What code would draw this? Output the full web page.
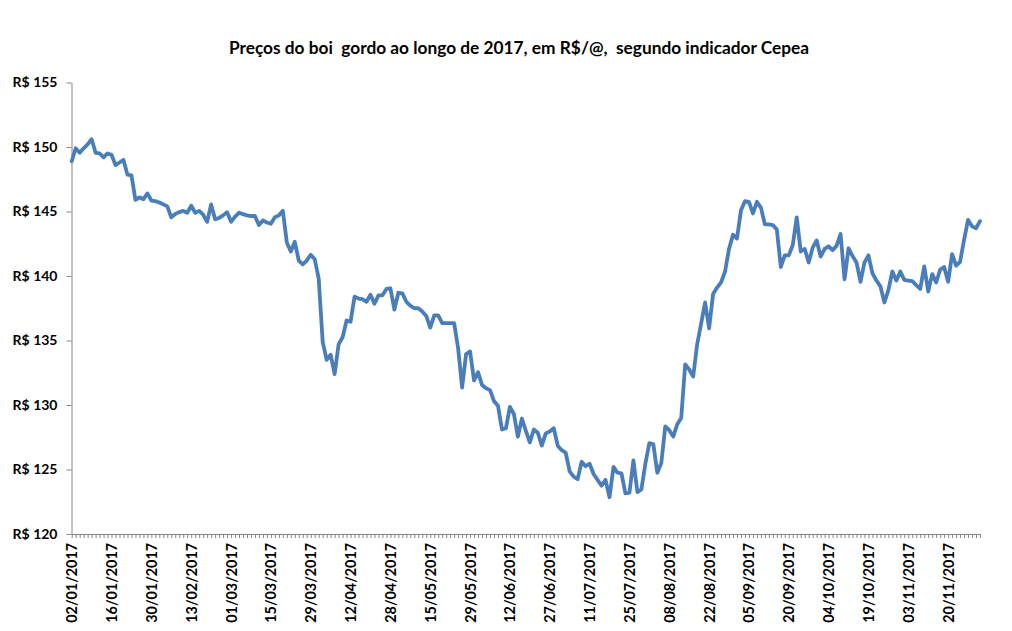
<!DOCTYPE html>
<html>
<head>
<meta charset="utf-8">
<script src="https://cdn.jsdelivr.net/npm/d3@7"></script>
<style>
  body { margin: 0; background: #fff; }
  text { font-family: Lato, "Open Sans", sans-serif; }
</style>
</head>
<body>
<div id="chart"></div>
<script>
// Boi gordo, indicador Cepea, one value per trading day
const prices = [
  148.9, 149.9, 149.55, 149.9, 150.2, 150.6, 149.55, 149.5, 149.2, 149.5,
  149.4, 148.6, 148.8, 149.0, 147.85, 147.8, 145.9, 146.1, 145.95, 146.4,
  145.85, 145.8, 145.7, 145.55, 145.4, 144.55, 144.8, 144.95, 145.05, 144.9,
  145.45, 144.9, 145.05, 144.75, 144.2, 145.55, 144.4, 144.5, 144.7, 144.95,
  144.2, 144.6, 144.9, 144.8, 144.7, 144.65, 144.65, 143.95, 144.3, 144.15,
  144.05, 144.55, 144.7, 145.05, 142.6, 141.9, 142.65, 141.2, 140.9, 141.2,
  141.65, 141.3, 139.8, 134.9, 133.5, 133.9, 132.4, 134.7, 135.25, 136.55,
  136.45, 138.4, 138.25, 138.2, 138.0, 138.55, 137.85, 138.5, 138.5, 139.0,
  139.05, 137.4, 138.7, 138.65, 138.0, 137.7, 137.5, 137.5, 137.25, 136.9,
  136.0, 136.95, 136.95, 136.35, 136.35, 136.35, 136.35, 134.4, 131.35, 133.95,
  134.15, 131.9, 132.55, 131.55, 131.3, 131.15, 130.3, 129.95, 128.1, 128.2,
  129.85, 129.3, 127.55, 128.95, 128.0, 127.1, 128.1, 127.85, 126.85, 127.8,
  127.95, 128.2, 126.85, 126.5, 126.3, 124.85, 124.45, 124.25, 125.6, 125.25,
  125.45, 124.65, 124.2, 123.75, 124.2, 122.85, 125.2, 124.75, 124.7, 123.15,
  123.2, 125.7, 123.25, 123.45, 125.45, 127.05, 126.95, 124.75, 125.5, 128.35,
  128.05, 127.55, 128.5, 129.0, 133.15, 132.75, 132.2, 134.7, 136.3, 137.95,
  135.95, 138.6, 139.1, 139.5, 140.35, 142.1, 143.2, 142.9, 145.1, 145.8,
  145.75, 144.85, 145.75, 145.3, 144.0, 144.0, 143.95, 143.6, 140.7, 141.6,
  141.6, 142.4, 144.55, 141.9, 142.1, 141.05, 142.2, 142.75, 141.5, 142.1,
  142.3, 142.0, 142.35, 143.25, 139.75, 142.15, 141.55, 141.05, 139.55, 141.05,
  141.6, 140.2, 139.65, 139.2, 137.95, 138.9, 140.35, 139.65, 140.35, 139.7,
  139.65, 139.6, 139.3, 139.0, 140.75, 138.8, 140.15, 139.5, 140.5, 140.7,
  139.55, 141.7, 140.8, 141.1, 142.8, 144.35, 143.85, 143.7, 144.25
];

// labels shown every 10 trading days
const dateLabels = [
  "02/01/2017", "16/01/2017", "30/01/2017", "13/02/2017", "01/03/2017",
  "15/03/2017", "29/03/2017", "12/04/2017", "28/04/2017", "15/05/2017",
  "29/05/2017", "12/06/2017", "27/06/2017", "11/07/2017", "25/07/2017",
  "08/08/2017", "22/08/2017", "05/09/2017", "20/09/2017", "04/10/2017",
  "19/10/2017", "03/11/2017", "20/11/2017"
];
const labelStep = 10;

const yTicks = [120, 125, 130, 135, 140, 145, 150, 155];

const title = "Preços do boi  gordo ao longo de 2017, em R$/@,  segundo indicador Cepea";

const width = 1012;
const height = 631;
const margin = { top: 82.5, right: 32, bottom: 97, left: 71.5 };

const svg = d3
  .select("#chart")
  .append("svg")
  .attr("width", width)
  .attr("height", height);

const x = d3
  .scaleLinear()
  .domain([0, prices.length - 1])
  .range([margin.left + 0.2, width - margin.right]);

const y = d3
  .scaleLinear()
  .domain([120, 155])
  .range([height - margin.bottom, margin.top]);

// title
svg
  .append("text")
  .attr("x", 519)
  .attr("y", 54)
  .attr("text-anchor", "middle")
  .attr("font-size", "17.3px")
  .attr("font-weight", "bold")
  .style("white-space", "pre")
  .text(title);

// y axis
const yAxis = svg
  .append("g")
  .attr("transform", `translate(${margin.left},0)`)
  .call(
    d3
      .axisLeft(y)
      .tickValues(yTicks)
      .tickSize(5)
      .tickSizeOuter(0)
      .tickPadding(9)
      .tickFormat((d) => "R$ " + d)
  );

yAxis.selectAll("path, line").attr("stroke", "#868686");
yAxis
  .selectAll("text")
  .attr("font-size", "14px")
  .attr("font-weight", "bold")
  .attr("fill", "#000")
  .attr("font-family", "Lato, sans-serif");

// x axis: a small tick on every trading day, label every 10th
const xAxis = svg
  .append("g")
  .attr("transform", `translate(0,${height - margin.bottom})`)
  .call(
    d3
      .axisBottom(x)
      .tickValues(d3.range(prices.length))
      .tickSize(4)
      .tickSizeOuter(0)
      .tickFormat((i) => (i % labelStep === 0 ? dateLabels[i / labelStep] || "" : ""))
  );

xAxis.selectAll("path, line").attr("stroke", "#868686");
xAxis
  .selectAll("text")
  .attr("font-size", "14.3px")
  .attr("font-weight", "bold")
  .attr("fill", "#000")
  .attr("font-family", "Lato, sans-serif")
  .attr("text-anchor", "end")
  .attr("transform", "rotate(-90)")
  .attr("x", -9)
  .attr("y", 0)
  .attr("dy", "0.35em");

// price line
const line = d3
  .line()
  .x((d, i) => x(i))
  .y((d) => y(d));

svg
  .append("path")
  .datum(prices)
  .attr("fill", "none")
  .attr("stroke", "#4A7EBB")
  .attr("stroke-width", 3.8)
  .attr("stroke-linejoin", "round")
  .attr("stroke-linecap", "round")
  .attr("d", line);
</script>
</body>
</html>
